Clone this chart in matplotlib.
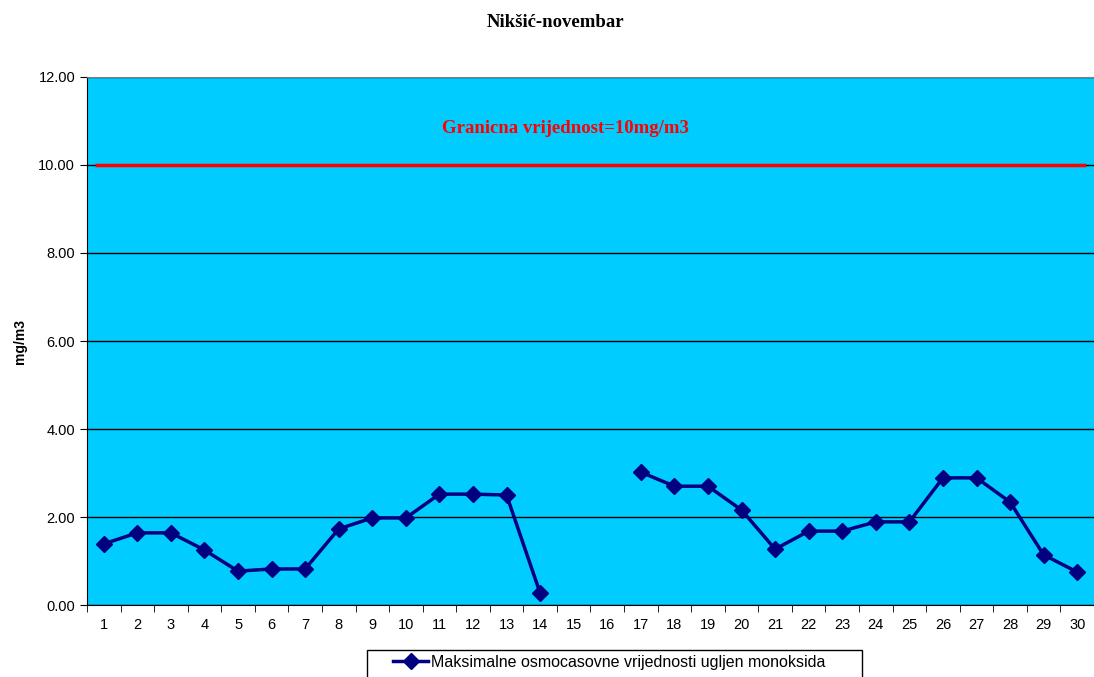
import numpy as np
import matplotlib.pyplot as plt
from matplotlib.patches import Rectangle

days = list(range(1, 31))
co_max = [1.39, 1.64, 1.64, 1.25, 0.77, 0.82, 0.82, 1.73, 1.98, 1.98,
          2.52, 2.52, 2.50, 0.27, np.nan, np.nan, 3.02, 2.70, 2.70, 2.16,
          1.27, 1.68, 1.68, 1.89, 1.89, 2.89, 2.89, 2.34, 1.14, 0.75]
limit = 10.0

plt.rcParams['font.family'] = ['Liberation Sans', 'DejaVu Sans']

fig = plt.figure(figsize=(10.94, 6.77), dpi=100)
ax = fig.add_axes([0.0795, 0.1063, 0.9205, 0.78])
ax.set_facecolor('#00CCFF')

ax.set_xlim(0.5, 30.5)
ax.set_ylim(0, 12)
ax.set_yticks(np.arange(0, 12.1, 2))
ax.set_yticklabels([f'{v:.2f}' for v in np.arange(0, 12.1, 2)])
ax.yaxis.grid(True, color='black', linewidth=1)
ax.set_axisbelow(True)

ax.set_xticks(days)
ax.set_xticklabels([str(d) for d in days])
ax.set_xticks(np.arange(0.5, 31, 1), minor=True)
ax.tick_params(axis='x', which='major', length=0, pad=9, labelsize=10.5)
ax.tick_params(axis='x', which='minor', length=5, direction='out')
ax.tick_params(axis='y', length=5, direction='out', labelsize=10.5)

for s in ['top', 'right']:
    ax.spines[s].set_color('#808080')
ax.spines['left'].set_color('black')
ax.spines['bottom'].set_color('black')

ax.hlines(limit, 0.75, 30.25, color='#FF0000', linewidth=2.5)
ax.text(14.76, 10.84, 'Granicna vrijednost=10mg/m3', color='#FF0000',
        ha='center', va='center', fontsize=13.5, family='Liberation Serif',
        fontweight='bold')

ax.plot(days, co_max, color='#000080', linewidth=2.5, marker='D',
        markersize=8, label='Maksimalne osmocasovne vrijednosti ugljen monoksida')

ax.set_ylabel('mg/m3', fontweight='bold', fontsize=10, labelpad=8)
fig.text(0.508, 0.967, 'Nikšić-novembar', ha='center', va='center',
         family='Liberation Serif', fontweight='bold', fontsize=13.5)

# legend box runs past the bottom edge like in the original
fig.patches.append(Rectangle((367 / 1094, -0.02), 495 / 1094, 0.02 + 27 / 677,
                             transform=fig.transFigure, facecolor='white',
                             edgecolor='black', linewidth=1, zorder=1))
leg = fig.legend(loc='center left', bbox_to_anchor=(393 / 1094, 1 - 662 / 677),
                 frameon=False, fontsize=11.5, handlelength=2.2,
                 handletextpad=0.2, borderpad=0, borderaxespad=0)
leg.set_zorder(2)

fig.savefig('out.png', dpi=100)
